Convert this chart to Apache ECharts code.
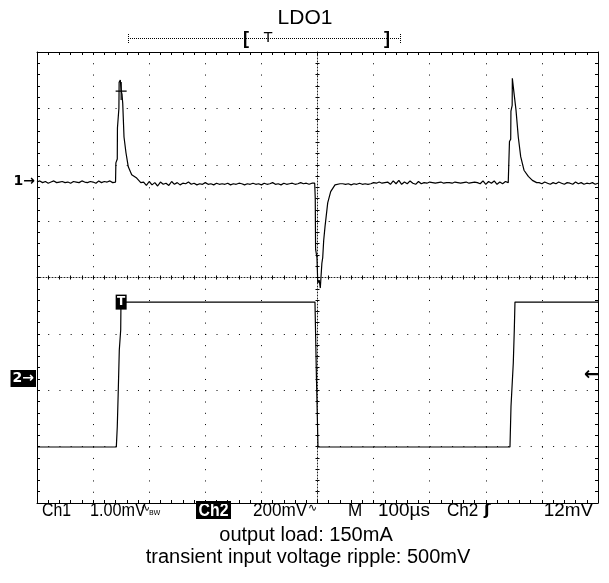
<!DOCTYPE html>
<html>
<head>
<meta charset="utf-8">
<title>LDO1</title>
<script src="https://cdn.jsdelivr.net/npm/echarts@6/dist/echarts.min.js"></script>
<style>
  html, body { margin: 0; padding: 0; background: #fff; }
  #chart { width: 609px; height: 583px; }
</style>
</head>
<body>
<div id="chart"></div>
<script>
// scope settings: 100 µs/div, Ch1 1.00 mV/div, Ch2 200 mV/div
const timeSpan = [0, 1000]          // µs
const ch1Range = [-5.703, 2.297]    // mV, "1" marker at 0
const ch2Range = [-0.4417, 1.1583]  // V, "2" marker at 0
const triggerTime = 150             // µs
const triggerLevel = 0.012          // V (12 mV on Ch2)
const cursorLevel = 1.605           // mV, cursor "+" on first spike

// Ch1 baseline noise, one sample every 5 µs
const ch1Pre = [-0.01, 0.01, -0.02, 0.00, -0.03, -0.01, 0.01, -0.02, -0.01, 0.00,
  -0.02, -0.01, -0.03, 0.00, -0.01, -0.02, 0.01, -0.01, -0.02, 0.00,
  -0.01, -0.03, 0.01, -0.02, 0.00, -0.01, 0.01, -0.02, -0.01]            // 0..140 µs
const ch1Mid = [-0.01, -0.07, 0.00, -0.06, -0.02, -0.08, -0.01, -0.05, -0.03, -0.07,
  0.00, -0.05, -0.02, -0.06, -0.03, -0.04, -0.01,
  -0.05, -0.03, -0.06, -0.04, -0.05, -0.02, -0.05, -0.04, -0.06, -0.03,
  -0.05, -0.04, -0.05, -0.03, -0.06, -0.04, -0.05, -0.03, -0.04, -0.06,
  -0.04, -0.05, -0.03, -0.05, -0.04, -0.06, -0.03, -0.05, -0.04, -0.02,
  -0.05, -0.04, -0.06, -0.03, -0.05, -0.04, -0.03, -0.05, -0.04, -0.02,
  -0.04, -0.03, -0.05, -0.03, -0.03]                                       // 190..495 µs
const ch1Post = [-0.04, -0.05, -0.04, -0.06, -0.04, -0.05, -0.03, -0.05, -0.04, -0.05, -0.04,
  -0.02, -0.03, -0.01, -0.03, -0.02, -0.01,
  -0.05, 0.01, -0.04, 0.02, -0.05, -0.01, -0.04, 0.01, -0.03, -0.05, 0.00, -0.04,
  -0.02, -0.03, -0.01, -0.02, -0.03, -0.02, -0.01, -0.03, -0.02, -0.02,
  -0.03, -0.01, -0.02, -0.03, -0.02, -0.01, -0.03, -0.02, -0.01, -0.02,
  -0.04, 0.01, -0.05, 0.00, -0.03, 0.01, -0.05, -0.01, -0.04, 0.00, -0.02]  // 545..840 µs
const ch1Tail = [-0.02, -0.04, -0.01, -0.03, -0.05, -0.02, -0.04, -0.01, -0.03, -0.05,
  -0.02, -0.03, -0.05, -0.01, -0.04, -0.02, -0.05, -0.03, -0.04, -0.02, -0.05, -0.03]  // 895..1000 µs

// Ch1 transients, [µs, mV]
const ch1Spike1 = [[140.3, -0.01], [140.6, 0.33], [143.1, 0.40], [143.4, 0.95], [146.0, 1.30],
  [146.4, 1.76], [148.5, 1.80], [150.2, 1.60], [151.5, 1.55], [152.8, 1.39], [155.1, 0.79],
  [158.6, 0.51], [162.7, 0.26], [168.8, 0.12], [177.7, 0.06], [185.0, -0.02]]
const ch1Dip = [[495.5, -0.03], [496.0, -0.30], [496.6, -1.20], [499.0, -1.35], [500.5, -1.80],
  [503.0, -1.75], [505.0, -1.89], [507.0, -1.88], [507.8, -1.45], [509.3, -1.35], [511.0, -1.05],
  [513.4, -0.80], [518.2, -0.38], [523.5, -0.18], [531.2, -0.06], [540.1, -0.04]]
const ch1Spike2 = [[841.9, 0.00], [842.2, 0.71], [844.4, 0.75], [844.8, 1.25], [847.0, 1.35],
  [847.3, 1.83], [849.5, 1.85], [850.5, 1.55], [853.8, 1.27], [857.9, 0.79], [862.2, 0.44],
  [868.1, 0.20], [875.8, 0.09], [883.0, 0.02], [890.7, -0.02]]

// Ch2 square wave, [µs, V]
const ch2Points = [[0, -0.243], [141.4, -0.243], [143.1, -0.171], [144.9, -0.041], [146.7, 0.101],
  [149.2, 0.172], [149.7, 0.271], [495.5, 0.271], [498.2, -0.005], [500.9, -0.243],
  [843.1, -0.243], [844.9, -0.10], [848.0, -0.10], [849.0, 0.055], [850.8, 0.172],
  [852.0, 0.271], [1000, 0.271]]

const samples = (start, values) => values.map((v, i) => [start + i * 5, v])
const ch1Data = [
  ...samples(0, ch1Pre), ...ch1Spike1,
  ...samples(190, ch1Mid), ...ch1Dip,
  ...samples(545, ch1Post), ...ch1Spike2,
  ...samples(895, ch1Tail),
]

const sans = "'Liberation Sans', Arial, sans-serif"
const ink = '#000'

// border axis (ticks inside the frame)
function frameX(position, withGrid) {
  return {
    type: 'value', position, min: timeSpan[0], max: timeSpan[1], interval: 100,
    axisLine: { show: true, onZero: false, lineStyle: { color: ink, width: 1 } },
    axisTick: { show: true, inside: true, length: 3, lineStyle: { color: ink } },
    minorTick: { show: true, splitNumber: 5, length: 3, lineStyle: { color: ink } },
    axisLabel: { show: false },
    splitLine: { show: withGrid, lineStyle: { color: ink, type: [1, 10.275] } },
  }
}
function frameY(position, withGrid) {
  return {
    type: 'value', position, min: 0, max: 8, interval: 1,
    axisLine: { show: true, onZero: false, lineStyle: { color: ink, width: 1 } },
    axisTick: { show: true, inside: true, length: 3, lineStyle: { color: ink } },
    minorTick: { show: true, splitNumber: 5, length: 3, lineStyle: { color: ink } },
    axisLabel: { show: false },
    splitLine: { show: withGrid, lineStyle: { color: ink, type: [1, 10.22] } },
  }
}
// centre cross-hair, ticks on both sides
function centreX(inside) {
  return {
    type: 'value', position: 'bottom', offset: -225.5, min: timeSpan[0], max: timeSpan[1], interval: 100,
    axisLine: { show: inside, onZero: false, lineStyle: { color: '#222', type: [1, 2] } },
    axisTick: { show: true, inside, length: 2, lineStyle: { color: ink } },
    minorTick: { show: true, splitNumber: 5, length: 2, lineStyle: { color: ink } },
    axisLabel: { show: false }, splitLine: { show: false },
  }
}
function centreY(inside) {
  return {
    type: 'value', position: 'left', offset: -280.5, min: 0, max: 8, interval: 1,
    axisLine: { show: inside, onZero: false, lineStyle: { color: '#222', type: [1, 2] } },
    axisTick: { show: true, inside, length: 2, lineStyle: { color: ink } },
    minorTick: { show: true, splitNumber: 5, length: 2, lineStyle: { color: ink } },
    axisLabel: { show: false }, splitLine: { show: false },
  }
}
const hiddenLine = () => ({ show: false, onZero: false })

function txt(text, x, y, size, opts = {}) {
  return {
    type: 'text', x, y, scaleX: opts.sx || 1,
    style: {
      text, font: (opts.bold ? 'bold ' : '') + size + 'px ' + (opts.family || sans),
      fill: opts.fill || ink, align: opts.align || 'left', verticalAlign: 'middle',
    },
  }
}

const chart = echarts.init(document.getElementById('chart'), null, { renderer: 'canvas' })
chart.setOption({
  animation: false,
  backgroundColor: '#fff',
  grid: { left: 37, right: 11, top: 52, bottom: 80 },
  xAxis: [frameX('bottom', true), frameX('top', false), centreX(true), centreX(false)],
  yAxis: [
    frameY('left', true),
    frameY('right', false),
    {
      type: 'value', position: 'left', min: ch1Range[0], max: ch1Range[1],
      axisLine: hiddenLine(), axisTick: { show: false }, splitLine: { show: false },
      axisLabel: {
        customValues: [0], formatter: () => '1→', margin: 2,
        fontFamily: 'DejaVu Sans', fontSize: 14, fontWeight: 'bold', color: ink,
      },
    },
    {
      type: 'value', position: 'left', min: ch2Range[0], max: ch2Range[1],
      axisLine: hiddenLine(), axisTick: { show: false }, splitLine: { show: false },
      axisLabel: {
        customValues: [0], formatter: () => '2→', margin: 1,
        fontFamily: 'DejaVu Sans', fontSize: 14, fontWeight: 'bold', color: '#fff',
        backgroundColor: ink, padding: [2, 2, 1, 2],
      },
    },
    {
      type: 'value', position: 'right', min: ch2Range[0], max: ch2Range[1],
      axisLine: hiddenLine(), axisTick: { show: false }, splitLine: { show: false },
      axisLabel: {
        inside: true, customValues: [triggerLevel], formatter: () => '←', margin: -1,
        fontFamily: 'DejaVu Sans', fontSize: 18, fontWeight: 'bold', color: ink,
      },
    },
    centreY(true),
    centreY(false),
  ],
  series: [
    {
      name: 'Ch1', type: 'line', xAxisIndex: 0, yAxisIndex: 2,
      data: ch1Data, showSymbol: false, clip: true,
      lineStyle: { color: ink, width: 1.2 },
      markPoint: {
        silent: true,
        data: [{
          coord: [triggerTime, cursorLevel],
          symbol: 'path://M0,8.5H11V9.7H0Z M4.9,0H6.1V18H4.9Z', symbolSize: [11, 18],
          itemStyle: { color: ink }, label: { show: false },
        }],
      },
    },
    {
      name: 'Ch2', type: 'line', xAxisIndex: 0, yAxisIndex: 3,
      data: ch2Points, showSymbol: false, clip: true,
      lineStyle: { color: ink, width: 1.2 },
      markPoint: {
        silent: true,
        data: [{
          coord: [triggerTime, ch2Points[ch2Points.length - 1][1]],
          symbol: 'rect', symbolSize: [11, 15], itemStyle: { color: ink },
          label: { show: true, formatter: 'T', color: '#fff', fontWeight: 'bold', fontSize: 12, fontFamily: 'DejaVu Sans' },
        }],
      },
    },
  ],
  graphic: [
    txt('LDO1', 305, 18, 21, { align: 'center' }),
    // record window bar above the screen
    { type: 'line', shape: { x1: 128, y1: 38.5, x2: 400, y2: 38.5 }, style: { stroke: ink, lineWidth: 1, lineDash: [1, 1] } },
    { type: 'line', shape: { x1: 128.5, y1: 34, x2: 128.5, y2: 44 }, style: { stroke: ink, lineWidth: 1, lineDash: [1, 1] } },
    { type: 'line', shape: { x1: 400.5, y1: 34, x2: 400.5, y2: 44 }, style: { stroke: ink, lineWidth: 1, lineDash: [1, 1] } },
    txt('[', 246, 39, 18, { align: 'center', bold: true }),
    txt('T', 268, 38, 15, { align: 'center' }),
    txt(']', 387, 39, 18, { align: 'center', bold: true }),
    // status line
    txt('Ch1', 42, 511, 18, { sx: 0.88 }),
    txt('1.00mV', 90, 511, 18, { sx: 0.9 }),
    txt('∿', 141, 508, 11, { family: 'DejaVu Sans' }),
    txt('BW', 149, 513, 7, { family: 'DejaVu Sans' }),
    { type: 'rect', shape: { x: 196, y: 501, width: 35, height: 18 }, style: { fill: ink } },
    txt('Ch2', 213.5, 511, 18, { align: 'center', bold: true, fill: '#fff', sx: 0.88 }),
    txt('200mV', 253, 511, 18, { sx: 0.95 }),
    txt('∿', 308, 508, 11, { family: 'DejaVu Sans' }),
    txt('M', 348, 511, 18, { sx: 0.95 }),
    txt('100µs', 378, 511, 18, { sx: 1.05 }),
    txt('Ch2', 447, 511, 18, { sx: 0.95 }),
    txt('ʃ', 484, 511, 16, { family: 'DejaVu Sans', bold: true }),
    txt('12mV', 593, 511, 18, { align: 'right', sx: 1.05 }),
    // captions
    txt('output load: 150mA', 306, 535, 20, { align: 'center' }),
    txt('transient input voltage ripple: 500mV', 308, 557, 20, { align: 'center' }),
  ],
})
</script>
</body>
</html>
